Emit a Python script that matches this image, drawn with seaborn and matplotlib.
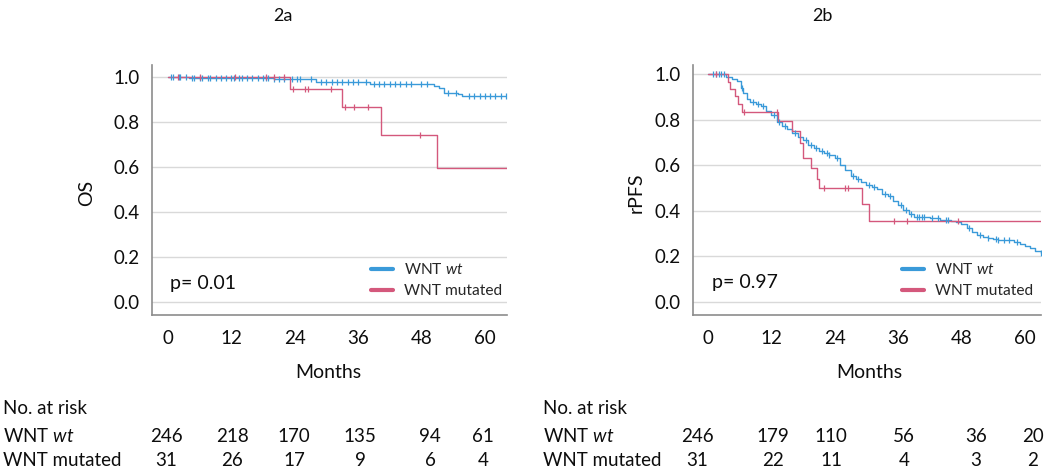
import numpy as np
import matplotlib
matplotlib.use("Agg")
import matplotlib.pyplot as plt
import seaborn as sns
from matplotlib.lines import Line2D

sns.set_style("white")
plt.rcParams['font.family'] = ['Lato', 'DejaVu Sans']
plt.rcParams['mathtext.fontset'] = 'custom'
plt.rcParams['mathtext.rm'] = 'Lato'
plt.rcParams['mathtext.it'] = 'Lato:italic'

BLUE = "#3a9ad9"
RED = "#d4587c"
INK = "#0d0d0d"

# --- 2a: overall survival ---
os_wt_t = [0, 4, 13, 20, 24.5, 28, 38.3, 50.3, 51.3, 52.2, 55.0, 55.6, 64.2]
os_wt_s = [1.0, 0.997, 0.994, 0.991, 0.989, 0.979, 0.967, 0.960, 0.952, 0.930, 0.922, 0.917, 0.917]
os_wt_cens = [0.5, 1, 2, 2.2, 3.5, 4.5, 5, 6, 6.5, 7.5, 8, 9, 10, 11, 12, 12.5, 13.5, 14,
              15, 16, 17, 18, 18.5, 19, 20, 21, 22, 23.5, 24.5, 25, 27, 29, 30, 31, 32,
              33, 34, 35, 36, 37.5, 39, 40, 41, 42, 43, 44, 45, 46, 48, 49, 53, 54.5,
              57, 58, 59, 60, 61, 62, 63, 64]
os_mut_t = [0, 23.1, 33.0, 40.3, 51.0, 64.2]
os_mut_s = [1.0, 0.947, 0.868, 0.744, 0.596, 0.596]
os_mut_cens = [1.8, 6.1, 12.6, 18.5, 20.1, 21.9, 23.6, 25.9, 26.6, 30.9, 33.6, 35.2, 37.9, 47.7]

# --- 2b: radiographic PFS ---
pfs_wt_t = [0, 3.5, 4.5, 5.5, 6.2, 6.7, 7.3, 8, 9, 10, 11, 12, 13, 14, 15, 16, 17, 18,
            19, 20, 21, 22, 23, 24, 25, 26, 27, 28, 29, 30, 31, 32, 33, 34, 35, 36, 37,
            38, 39, 42, 44, 46, 47, 48, 49, 50, 51, 52, 53, 54, 55, 58, 59, 60, 61, 62,
            63]
pfs_wt_s = [1.0, 0.99, 0.98, 0.97, 0.94, 0.92, 0.89, 0.88, 0.87, 0.86, 0.84, 0.82, 0.79,
            0.775, 0.76, 0.74, 0.725, 0.71, 0.69, 0.675, 0.665, 0.655, 0.645, 0.63, 0.60,
            0.58, 0.555, 0.54, 0.525, 0.515, 0.505, 0.495, 0.475, 0.465, 0.445, 0.425,
            0.405, 0.385, 0.375, 0.37, 0.36, 0.355, 0.35, 0.34, 0.325, 0.305, 0.295,
            0.285, 0.28, 0.275, 0.27, 0.265, 0.255, 0.245, 0.235, 0.225, 0.215]
pfs_wt_cens = [1, 1.5, 2, 2.5, 3, 6.5, 8.5, 9.5, 10.5, 12.5, 13.5, 14.5, 16.5, 18.5, 19.5,
               20.5, 21.5, 22.5, 23, 24.5, 27.5, 28.5, 30.5, 31.5, 33.5, 34.5, 36.5, 37.5,
               38.5, 39.5, 40, 40.5, 41, 42.5, 43.5, 45, 45.5, 49.5, 51.5, 53, 54.5, 55,
               56, 57, 58.5, 63]
pfs_mut_t = [0, 3.7, 4.2, 5.1, 5.7, 6.4, 13.3, 16.0, 17.4, 17.9, 19.5, 20.6, 21.1, 29.1,
             30.4, 63.1]
pfs_mut_s = [1.0, 0.967, 0.935, 0.903, 0.871, 0.834, 0.793, 0.750, 0.70, 0.633, 0.587,
             0.54, 0.50, 0.43, 0.357, 0.357]
pfs_mut_cens = [1.6, 6.9, 13.0, 22.0, 26.0, 26.5, 35.2, 37.7, 47.4]

p_values = ["p= 0.01", "p= 0.97"]
y_labels = ["OS", "rPFS"]
panel_titles = ["2a", "2b"]
risk_wt = [[246, 218, 170, 135, 94, 61], [246, 179, 110, 56, 36, 20]]
risk_mut = [[31, 26, 17, 9, 6, 4], [31, 22, 11, 4, 3, 2]]
risk_x = [[166, 232, 294, 360, 430, 483], [697, 773, 831, 904, 976, 1033]]  # pixel centers


def step_at(t, s, c):
    idx = np.searchsorted(t, c, side="right") - 1
    return np.asarray(s)[idx]


def km(ax, t, s, cens, color):
    sns.lineplot(x=t, y=s, drawstyle="steps-post", color=color, lw=1.0, ax=ax,
                 estimator=None, sort=False)
    sns.scatterplot(x=cens, y=step_at(t, s, cens), marker="|", s=22, linewidth=0.9,
                    color=color, ax=ax, zorder=3)


W, H = 1050, 468
fig = plt.figure(figsize=(10.5, 4.68), dpi=100)
axA = fig.add_axes([152 / W, 153 / H, 355 / W, 250 / H])
axB = fig.add_axes([693 / W, 153 / H, 348 / W, 250 / H])

km(axA, os_wt_t, os_wt_s, os_wt_cens, BLUE)
km(axA, os_mut_t, os_mut_s, os_mut_cens, RED)
km(axB, pfs_wt_t, pfs_wt_s, pfs_wt_cens, BLUE)
km(axB, pfs_mut_t, pfs_mut_s, pfs_mut_cens, RED)

axA.set_xlim(-3.03, 64.2)
axA.set_ylim(-0.058, 1.053)
axB.set_xlim(-2.84, 63.07)
axB.set_ylim(-0.058, 1.041)

legend_x = [0.986, 0.977]
ylabel_x = [87, 636]
months_x = [328, 869]
title_x = [283, 822]
for i, ax in enumerate([axA, axB]):
    ax.set_xticks([0, 12, 24, 36, 48, 60])
    ax.set_yticks([0, 0.2, 0.4, 0.6, 0.8, 1.0])
    ax.set_yticklabels(["0.0", "0.2", "0.4", "0.6", "0.8", "1.0"])
    ax.tick_params(axis="both", length=0, labelsize=13.5, colors=INK)
    ax.tick_params(axis="y", pad=9)
    ax.tick_params(axis="x", pad=11)
    ax.grid(axis="y", color="#d9d9d9", lw=1)
    ax.set_axisbelow(True)
    for sp in ["top", "right"]:
        ax.spines[sp].set_visible(False)
    for sp in ["left", "bottom"]:
        ax.spines[sp].set_color("#8c8c8c")
        ax.spines[sp].set_linewidth(1.2)
    ax.set_xlabel("")
    ax.set_ylabel("")
    fig.text(ylabel_x[i] / W, 1 - 193 / H, y_labels[i], rotation=90, fontsize=14,
             ha="center", va="center", color=INK)
    fig.text(months_x[i] / W, 1 - 372 / H, "Months", fontsize=14, ha="center",
             va="center", color=INK)
    fig.text(title_x[i] / W, 1 - 16 / H, panel_titles[i], fontsize=13, ha="center",
             va="center", color=INK)
    ax.text(0.3 if i == 0 else 0.8, 0.083, p_values[i], fontsize=14, ha="left",
            va="center", color=INK)
    handles = [Line2D([], [], color=BLUE, lw=3), Line2D([], [], color=RED, lw=3)]
    ax.legend(handles, ["WNT $\\mathit{wt}$", "WNT mutated"], loc="lower right",
              bbox_to_anchor=(legend_x[i], 0.068), frameon=False, fontsize=11.2,
              handlelength=1.4, handletextpad=0.7, labelspacing=0.42, borderpad=0,
              borderaxespad=0)

    # number at risk table
    left = [3, 543][i]
    fig.text(left / W, 1 - 408 / H, "No. at risk", fontsize=13.5, ha="left",
             va="center", color=INK)
    fig.text(left / W, 1 - 436 / H, "WNT $\\mathit{wt}$", fontsize=13.5, ha="left",
             va="center", color=INK)
    fig.text(left / W, 1 - 460 / H, "WNT mutated", fontsize=13.5, ha="left",
             va="center", color=INK)
    for x, a, b in zip(risk_x[i], risk_wt[i], risk_mut[i]):
        fig.text(x / W, 1 - 436 / H, str(a), fontsize=13.5, ha="center", va="center",
                 color=INK)
        fig.text(x / W, 1 - 460 / H, str(b), fontsize=13.5, ha="center", va="center",
                 color=INK)

fig.savefig("out.png", dpi=100)
